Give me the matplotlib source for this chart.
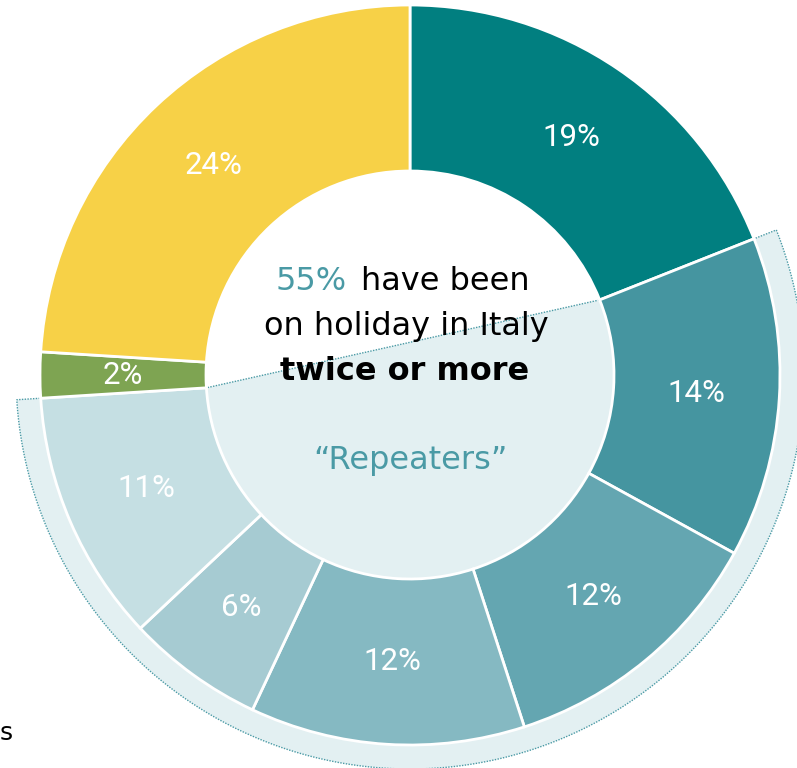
import numpy as np
import matplotlib
matplotlib.use("Agg")
import matplotlib.pyplot as plt
from matplotlib.patches import Polygon

# Share of visits to Italy (%), clockwise from 12 o'clock
values = [19, 14, 12, 12, 6, 11, 2, 24]
labels = ["19%", "14%", "12%", "12%", "6%", "11%", "2%", "24%"]
colors = ["#017f80", "#4595a0", "#64a6b1", "#85b9c2", "#a6cbd2",
          "#c5dfe3", "#7ea452", "#f7d147"]
repeaters = [1, 2, 3, 4, 5]  # slice indices that make up the 55%

plt.rcParams['font.family'] = ['DejaVu Sans']

fig = plt.figure(figsize=(7.97, 7.68), dpi=100)
ax = fig.add_axes([0, 0, 1, 1])

cx, cy = 410, 393
r_out, r_in = 370, 204
r_hl = 394

# angles (clockwise from top) of slice boundaries
bounds = np.concatenate([[0], np.cumsum(values)]) / sum(values) * 360
a1 = 90 - bounds[repeaters[0]]          # start of repeaters, math degrees
a2 = 90 - bounds[repeaters[-1] + 1]     # end of repeaters
th = np.radians(np.linspace(a1, a2, 200))
pts = [(cx + r_hl * np.cos(t), cy + r_hl * np.sin(t)) for t in th]
pts.append((cx + r_in * np.cos(np.radians(a2)), cy + r_in * np.sin(np.radians(a2))))
pts.append((cx + r_in * np.cos(np.radians(a1)), cy + r_in * np.sin(np.radians(a1))))
ax.add_patch(Polygon(pts, closed=True, facecolor="#e3f0f2", edgecolor="#4a9aa5",
                     linestyle=(0, (1, 1)), linewidth=1, zorder=1))

wedges, _ = ax.pie(values, colors=colors, startangle=90, counterclock=False,
                   center=(cx, cy), radius=r_out,
                   wedgeprops=dict(width=r_out - r_in, edgecolor="white", linewidth=2))
for w in wedges:
    w.set_zorder(2)

# slice labels
r_lab = (r_out + r_in) / 2
for i, lab in enumerate(labels):
    mid = 90 - (bounds[i] + bounds[i + 1]) / 2
    ax.text(cx + r_lab * np.cos(np.radians(mid)), cy + r_lab * np.sin(np.radians(mid)),
            lab, color="white", fontsize=22.5, family="Roboto",
            ha="center", va="center", zorder=3)

# centre text
teal = "#4a9aa5"
fs = 23
ax.text(347, 768 - 282, "55%", color=teal, fontsize=fs, ha="right", va="center", zorder=3)
ax.text(361, 768 - 282, "have been", color="black", fontsize=fs, ha="left", va="center", zorder=3)
ax.text(406, 768 - 327, "on holiday in Italy", color="black", fontsize=fs,
        ha="center", va="center", zorder=3)
ax.text(405, 768 - 372, "twice or more", color="black", fontsize=fs, fontweight="bold",
        ha="center", va="center", zorder=3)
ax.text(410, 768 - 460, "\u201cRepeaters\u201d", color=teal, fontsize=fs,
        ha="center", va="center", zorder=3)

# text fragment at the left edge
ax.text(0, 768 - 733, "s", color="black", fontsize=18, ha="left", va="center")

ax.set_xlim(0, 797)
ax.set_ylim(0, 768)
ax.set_aspect("equal")
ax.axis("off")

fig.savefig("out.png", dpi=100)
